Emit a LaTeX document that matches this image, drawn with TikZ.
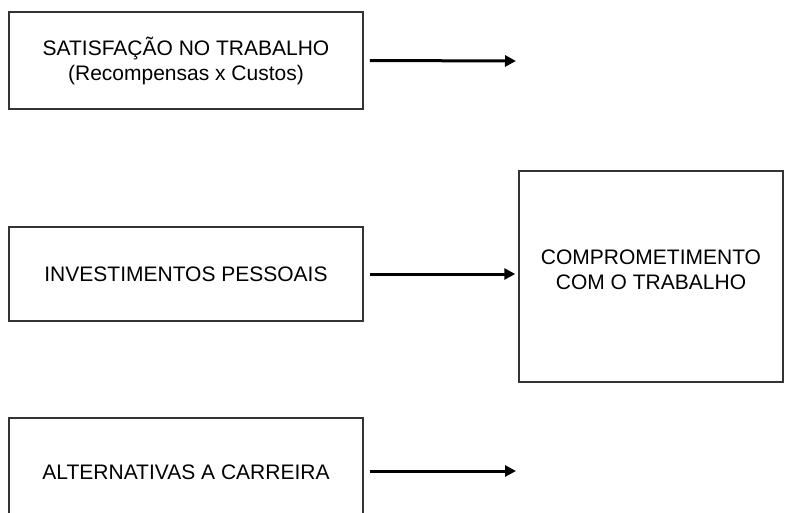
\documentclass[tikz,border=0pt]{standalone}
\usepackage{fontspec}
\setmainfont{Liberation Sans}
\usetikzlibrary{arrows.meta,positioning}
\begin{document}
\begin{tikzpicture}[x=1pt,y=-1pt,
    caixa/.style={draw=black!80,line width=1.5pt,align=center,
      font=\fontsize{21}{25}\selectfont},
    seta/.style={line width=3pt,-{Triangle[length=11pt,width=11pt]}}]
  % area da figura
  \useasboundingbox (0,0) rectangle (787,512);
  \clip (0,0) rectangle (787,512);

  % caixas da esquerda
  \node[caixa,minimum width=354pt,minimum height=97pt] (satisf) at (186,60.5)
    {SATISFAÇÃO NO TRABALHO\\(Recompensas x Custos)};
  \node[caixa,minimum width=354pt,minimum height=94pt] (invest) at (186,274)
    {INVESTIMENTOS PESSOAIS};
  \node[caixa,minimum width=354pt,minimum height=108pt,text depth=0pt] (altern) at (186,472)
    {ALTERNATIVAS A CARREIRA};

  % caixa da direita
  \node[caixa,minimum width=264pt,minimum height=211pt] (compr) at (651,276.5) {};
  \node[font=\fontsize{21}{25}\selectfont,align=center] (comprtxt) at (651,270)
    {COMPROMETIMENTO\\COM O TRABALHO};

  % pontas livres das setas
  \coordinate (fim1) at (516,61);
  \coordinate (fim3) at (516,471);

  % setas
  \draw[seta] ([xshift=6pt]satisf.east) -- (fim1);
  \draw[seta] ([xshift=6pt]invest.east) -- ([xshift=-3pt]compr.west |- invest.east);
  \draw[seta] ([xshift=6pt]altern.east |- fim3) -- (fim3);
\end{tikzpicture}
\end{document}
